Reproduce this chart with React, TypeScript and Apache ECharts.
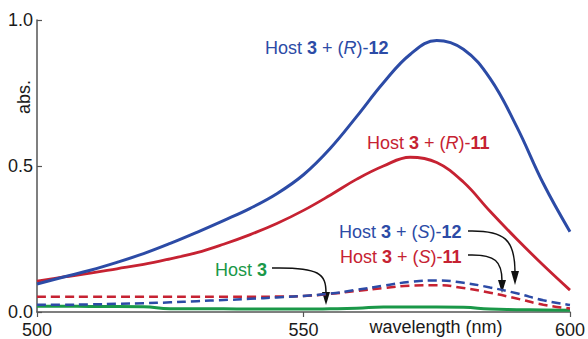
import React, { useEffect, useRef } from "react";
import * as echarts from "echarts";

const wavelengths = [500, 505, 510, 515, 520, 525, 530, 535, 540, 545, 550, 555, 560, 565, 570, 575, 580, 585, 590, 595, 600];
const hostR12 = [0.096, 0.12, 0.143, 0.17, 0.2, 0.235, 0.273, 0.313, 0.355, 0.405, 0.47, 0.56, 0.67, 0.785, 0.882, 0.93, 0.9, 0.8, 0.635, 0.44, 0.275];
const hostR11 = [0.106, 0.12, 0.133, 0.148, 0.163, 0.182, 0.203, 0.232, 0.265, 0.303, 0.348, 0.4, 0.455, 0.5, 0.53, 0.512, 0.445, 0.345, 0.25, 0.16, 0.075];
const hostS12 = [0.025, 0.025, 0.026, 0.028, 0.03, 0.033, 0.037, 0.041, 0.045, 0.05, 0.055, 0.063, 0.076, 0.09, 0.103, 0.108, 0.1, 0.084, 0.064, 0.04, 0.024];
const hostS11 = [0.052, 0.052, 0.052, 0.052, 0.052, 0.052, 0.052, 0.052, 0.052, 0.053, 0.055, 0.062, 0.072, 0.082, 0.09, 0.092, 0.082, 0.066, 0.046, 0.025, 0.012];
const host3 = [0.02, 0.02, 0.019, 0.019, 0.018, 0.011, 0.011, 0.011, 0.01, 0.01, 0.01, 0.011, 0.013, 0.017, 0.017, 0.017, 0.016, 0.01, 0.008, 0.007, 0.006];

const BLUE = "#2c4ba6";
const RED = "#c62232";
const GREEN = "#1a9848";
const FONT = "'Liberation Sans', Arial, Helvetica, sans-serif";

const pairs = (ys: number[]) => wavelengths.map((x, i) => [x, ys[i]]);

function label(x: number, y: number, color: string, parts: [string, string][]) {
  const text = parts.map(([k, t]) => `{${k}|${t}}`).join("");
  const base = { fontSize: 18, fontFamily: FONT, fill: color };
  return {
    type: "text",
    x,
    y,
    style: {
      text,
      fill: color,
      fontSize: 18,
      fontFamily: FONT,
      verticalAlign: "middle",
      align: "left",
      rich: {
        n: { ...base },
        b: { ...base, fontWeight: "bold" },
        i: { ...base, fontStyle: "italic" },
      },
    },
  };
}

function arrow(pts: number[][], tip: number[]) {
  const [p1, c1, c2, p2] = pts;
  return [
    {
      type: "bezierCurve",
      shape: { x1: p1[0], y1: p1[1], cpx1: c1[0], cpy1: c1[1], cpx2: c2[0], cpy2: c2[1], x2: p2[0], y2: p2[1] },
      style: { stroke: "#111", lineWidth: 1.5, fill: "none" },
    },
    {
      type: "polygon",
      shape: { points: [[p2[0] - 4, p2[1] - 1], [p2[0] + 4, p2[1] - 1], tip] },
      style: { fill: "#111" },
    },
  ];
}

export default function App() {
  const ref = useRef<HTMLDivElement>(null);
  useEffect(() => {
    if (!ref.current) return;
    const chart = echarts.init(ref.current, null, { renderer: "svg" });
    const axisLine = { show: true, lineStyle: { color: "#555", width: 1.5 } };
    chart.setOption({
      animation: false,
      grid: { left: 37, right: 3, top: 20, bottom: 27 },
      xAxis: {
        type: "value",
        min: 500,
        max: 600,
        interval: 50,
        axisLine,
        axisTick: { show: true, length: 5, lineStyle: { color: "#555", width: 1.2 } },
        axisLabel: {
          fontSize: 18,
          fontFamily: FONT,
          color: "#1a1a1a",
          margin: 9,
          showMinLabel: true,
          showMaxLabel: true,
          alignMinLabel: "center",
          alignMaxLabel: "center",
        },
        splitLine: { show: false },
      },
      yAxis: {
        type: "value",
        min: 0,
        max: 1,
        interval: 0.5,
        axisLine,
        axisTick: { show: true, inside: true, length: 5, lineStyle: { color: "#555", width: 1.2 } },
        axisLabel: { fontSize: 18, fontFamily: FONT, color: "#1a1a1a", margin: 4, formatter: (v: number) => v.toFixed(1) },
        splitLine: { show: false },
      },
      series: [
        { name: "Host 3", type: "line", data: pairs(host3), symbol: "none", smooth: true, lineStyle: { color: GREEN, width: 3 } },
        { name: "Host 3 + (S)-11", type: "line", data: pairs(hostS11), symbol: "none", smooth: true, lineStyle: { color: RED, width: 2.5, type: [9, 5] } },
        { name: "Host 3 + (S)-12", type: "line", data: pairs(hostS12), symbol: "none", smooth: true, lineStyle: { color: BLUE, width: 2.5, type: [9, 5] } },
        { name: "Host 3 + (R)-11", type: "line", data: pairs(hostR11), symbol: "none", smooth: 0.4, lineStyle: { color: RED, width: 2.8 } },
        { name: "Host 3 + (R)-12", type: "line", data: pairs(hostR12), symbol: "none", smooth: 0.4, lineStyle: { color: BLUE, width: 3 } },
      ],
      graphic: [
        label(265, 48, BLUE, [["n", "Host "], ["b", "3"], ["n", " + ("], ["i", "R"], ["n", ")-"], ["b", "12"]]),
        label(367, 143, RED, [["n", "Host "], ["b", "3"], ["n", " + ("], ["i", "R"], ["n", ")-"], ["b", "11"]]),
        label(339, 232, BLUE, [["n", "Host "], ["b", "3"], ["n", " + ("], ["i", "S"], ["n", ")-"], ["b", "12"]]),
        label(340, 257, RED, [["n", "Host "], ["b", "3"], ["n", " + ("], ["i", "S"], ["n", ")-"], ["b", "11"]]),
        label(215, 270, GREEN, [["n", "Host "], ["b", "3"]]),
        ...arrow([[272, 268], [320, 267], [326, 274], [326, 293]], [326, 305]),
        ...arrow([[468, 231], [505, 230], [515, 240], [515, 272]], [515, 285]),
        ...arrow([[468, 255], [496, 254], [502, 262], [502, 281]], [502, 293]),
        {
          type: "text",
          x: 436,
          y: 327,
          style: { text: "wavelength (nm)", fontSize: 18, fontFamily: FONT, fill: "#1a1a1a", align: "center", verticalAlign: "middle" },
        },
        {
          type: "text",
          x: 24,
          y: 97,
          rotation: Math.PI / 2,
          style: { text: "abs.", fontSize: 18, fontFamily: FONT, fill: "#1a1a1a", align: "center", verticalAlign: "middle" },
        },
      ],
    });
    return () => chart.dispose();
  }, []);
  return <div ref={ref} style={{ width: 588, height: 339, position: "absolute", left: 0, top: 0 }} />;
}
